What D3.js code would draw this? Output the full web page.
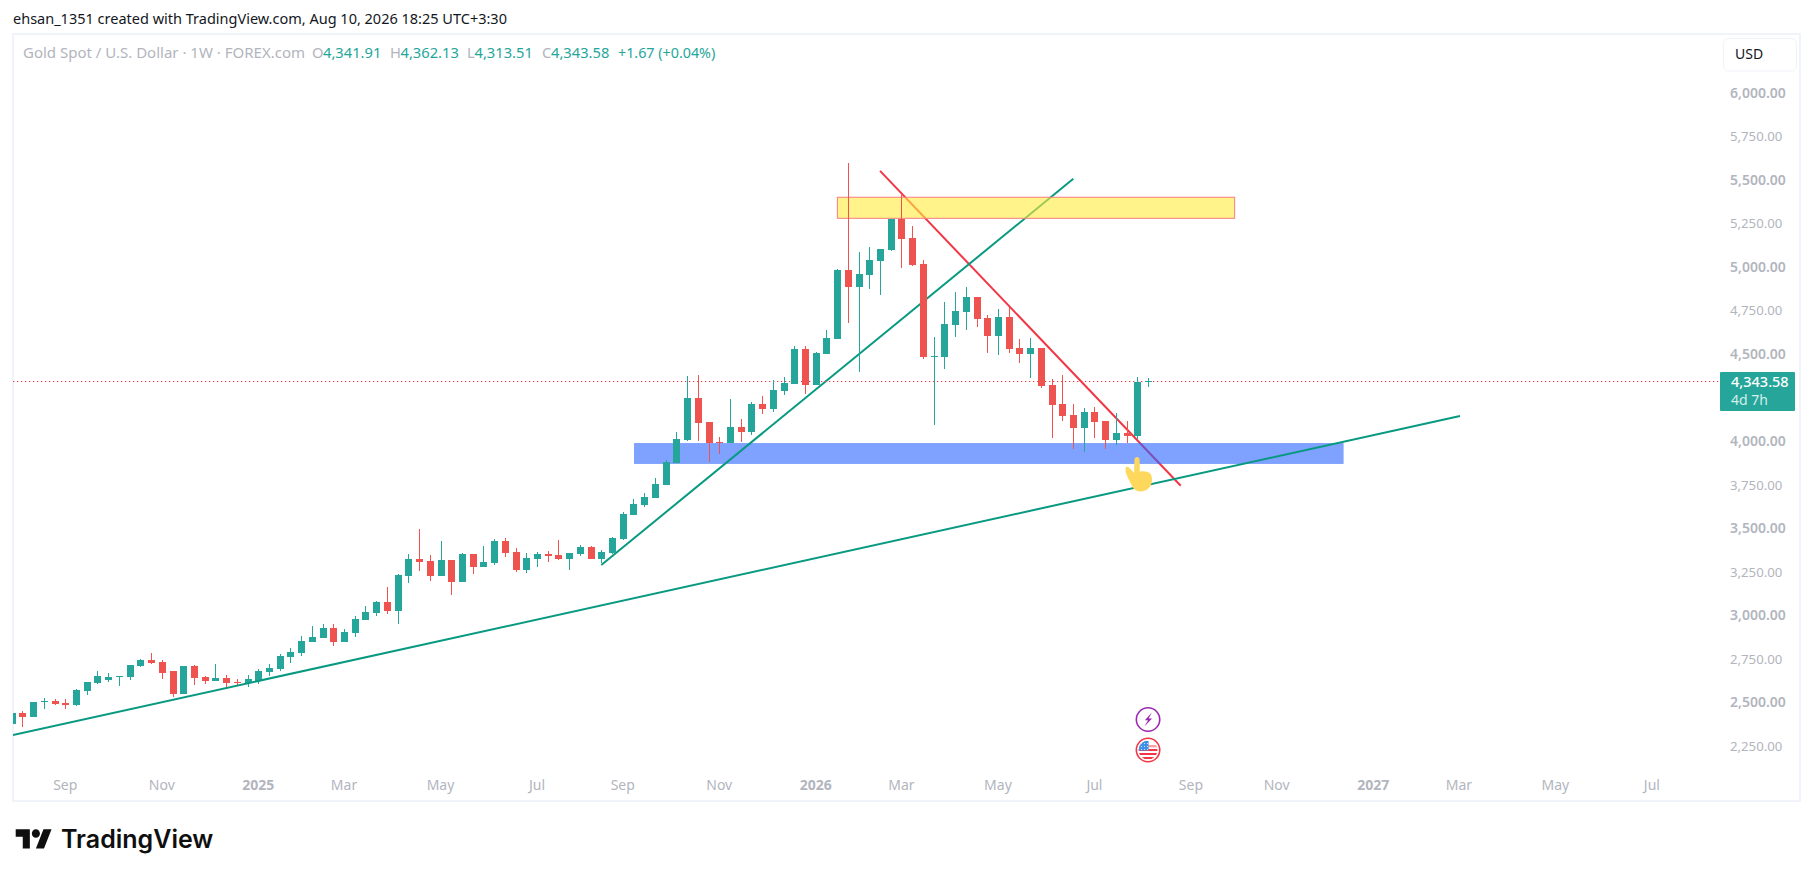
<!DOCTYPE html>
<html><head><meta charset="utf-8">
<script src="https://cdnjs.cloudflare.com/ajax/libs/d3/7.9.0/d3.min.js"></script>
<style>html,body{margin:0;padding:0;background:#fff}svg{display:block}text{font-family:"Noto Sans",sans-serif}</style>
</head><body><svg id="c" width="1814" height="877"></svg>
<script>
const opens=[2376,2440,2417,2503,2508,2497,2485,2566,2612,2629,2648,2646,2709,2744,2732,2681,2549,2709,2646,2623,2640,2617,2612,2623,2675,2692,2761,2784,2847,2870,2927,2847,2899,2973,3013,3077,3025,3226,3323,3312,3226,3318,3192,3352,3278,3301,3427,3364,3260,3324,3352,3347,3324,3352,3392,3324,3358,3438,3576,3634,3674,3748,3874,4007,4248,4110,3995,3989,4081,4052,4213,4184,4288,4328,4529,4322,4500,4586,4982,4885,4954,5034,5097,5275,5166,5017,4483,4483,4667,4741,4827,4707,4604,4713,4535,4500,4535,4323,4213,4150,4076,4168,4116,4007,4047,4030,4341.91];
const highs=[2440,2451,2503,2524,2518,2518,2577,2617,2681,2669,2652,2715,2749,2784,2744,2681,2709,2715,2652,2721,2658,2635,2658,2692,2721,2778,2813,2881,2939,2950,2950,2922,2996,3054,3082,3163,3237,3352,3496,3346,3427,3318,3358,3352,3398,3438,3444,3387,3358,3364,3370,3433,3358,3404,3398,3375,3450,3593,3668,3702,3788,3892,4052,4374,4380,4110,4024,4242,4127,4225,4259,4351,4368,4546,4546,4512,4638,4988,5596,5086,5114,5103,5275,5413,5235,5040,4598,4799,4856,4885,4827,4724,4758,4770,4586,4592,4535,4357,4380,4213,4190,4196,4116,4162,4116,4368,4362.13];
const lows=[2376,2359,2417,2463,2485,2463,2480,2543,2606,2617,2595,2629,2704,2721,2635,2531,2549,2600,2606,2623,2577,2600,2589,2606,2652,2681,2727,2767,2847,2870,2824,2847,2876,2973,2996,3008,2950,3186,3255,3197,3226,3117,3192,3238,3278,3289,3335,3249,3243,3278,3306,3318,3260,3341,3324,3301,3352,3433,3576,3622,3674,3748,3874,4001,4001,3880,3926,3989,3995,4035,4156,4167,4265,4328,4271,4322,4500,4586,4678,4397,4873,4839,5091,4994,5005,4471,4093,4414,4598,4638,4655,4506,4494,4506,4449,4362,4305,4018,4116,3955,3938,4018,3955,3978,3990,4013,4313.51];
const closes=[2440,2417,2503,2507,2491,2485,2571,2617,2652,2646,2652,2715,2744,2727,2669,2549,2709,2640,2623,2640,2612,2612,2635,2681,2698,2767,2790,2853,2876,2927,2847,2904,2979,3019,3077,3025,3232,3323,3306,3226,3318,3192,3352,3278,3306,3427,3358,3260,3329,3352,3341,3324,3358,3392,3324,3364,3444,3582,3639,3679,3754,3880,4012,4248,4104,3989,3989,4081,4052,4213,4184,4293,4334,4529,4322,4506,4592,4982,4885,4959,5040,5103,5275,5160,5011,4483,4489,4672,4747,4827,4701,4604,4713,4529,4500,4535,4317,4208,4145,4076,4168,4110,4007,4047,4030,4340,4343.58];

const priceTicks=[6000,5750,5500,5250,5000,4750,4500,4000,3750,3500,3250,3000,2750,2500,2250];
const majorPrices=[6000,5500,5000,4500,4000,3500,3000,2500];
const timeLabels=["Sep","Nov","2025","Mar","May","Jul","Sep","Nov","2026","Mar","May","Jul","Sep","Nov","2027","Mar","May","Jul"];
const timeIndex=[5,14,23,31,40,49,57,66,75,83,92,101,110,118,127,135,144,153];
const majorTimes=["2025","2026","2027"];

const greenLongI=[0.12,135.1],greenLongP=[2313,4144];
const greenUpI=[55,99.03],greenUpP=[3289,5506];
const redDownI=[81,109.05],redDownP=[5551,3744];
const yellowI=[77.02,114.08],yellowP=[5400,5279];
const blueI=[58.05,124.24],blueP=[3989,3869];
const lastPrice=4343.58;

const UP="#26a69a",DN="#ef5350",AX="#b2b5be",INK="#131722";
const svg=d3.select("#c");
const x=d3.scaleLinear().domain([0,153]).range([11.7,1651.9]);
const y=d3.scaleLinear().domain([6000,2250]).range([92.7,746]);

svg.append("defs").append("clipPath").attr("id","pane").append("rect").attr("x",13).attr("y",34).attr("width",1707).attr("height",767);

// frame
svg.append("rect").attr("x",13).attr("y",34).attr("width",1787).attr("height",767).attr("fill","#fff").attr("stroke","#f0f3fa").attr("stroke-width",2);

const pane=svg.append("g").attr("clip-path","url(#pane)");
const seg=(g,I,P,c)=>g.append("line").attr("x1",x(I[0])).attr("x2",x(I[1])).attr("y1",y(P[0])).attr("y2",y(P[1])).attr("stroke",c).attr("stroke-width",2);
const box=(g,I,P)=>g.append("rect").attr("x",x(I[0])).attr("width",x(I[1])-x(I[0])).attr("y",y(P[0])).attr("height",y(P[1])-y(P[0]));

// layers
seg(pane,redDownI,redDownP,"#f23645");
box(pane,blueI,blueP).attr("fill","#2962ff").attr("fill-opacity",0.6);
seg(pane,greenUpI,greenUpP,"#089981");
box(pane,yellowI,yellowP).attr("fill","#ffeb3b").attr("fill-opacity",0.6).attr("stroke","#f77c80").attr("stroke-width",1);

// last price line
pane.append("line").attr("x1",13).attr("x2",1720).attr("y1",Math.round(y(lastPrice))+.5).attr("y2",Math.round(y(lastPrice))+.5)
 .attr("stroke","#f23645").attr("stroke-width",1).attr("stroke-dasharray","1.3 2.7");

// candles
const idx=d3.range(opens.length);
const cg=pane.append("g").attr("shape-rendering","crispEdges");
cg.selectAll("rect.w").data(idx).join("rect").attr("class","w")
 .attr("x",i=>Math.round(x(i))-.5).attr("width",1)
 .attr("y",i=>Math.round(y(highs[i]))).attr("height",i=>Math.max(1,Math.round(y(lows[i]))-Math.round(y(highs[i]))))
 .attr("fill",i=>closes[i]>=opens[i]?UP:DN);
cg.selectAll("rect.b").data(idx).join("rect").attr("class","b")
 .attr("x",i=>Math.round(x(i))-3.5).attr("width",7)
 .attr("y",i=>Math.round(y(Math.max(opens[i],closes[i]))))
 .attr("height",i=>Math.max(1,Math.round(y(Math.min(opens[i],closes[i])))-Math.round(y(Math.max(opens[i],closes[i])))))
 .attr("fill",i=>closes[i]>=opens[i]?UP:DN);

seg(pane,greenLongI,greenLongP,"#089981");

// hand icon
const hand=pane.append("g").attr("transform",`translate(${x(105)-1},${y(3800)-2}) scale(1.15)`).attr("fill","#fed85d");
hand.append("path").attr("d","M-1.6 -12.5 C-1.6 -15.5 2.8 -15.5 2.8 -12.5 L3 -2 C6 -3 11 -2 12.5 0 C14.5 4 14 10 10 13 C6 16 0 16 -3 12 L-7 4 C-9 0 -10 -4 -9 -6 C-7 -7 -5 -4 -2 -1 Z");

// events
const ev=svg.append("g");
const e1=ev.append("g").attr("transform",`translate(${x(106)},719.5)`);
e1.append("circle").attr("r",11.7).attr("fill","#fff").attr("stroke","#9c27b0").attr("stroke-width",1.6);
e1.append("path").attr("d","M3.8 -7 L-3.2 0.8 L0 0.8 L-3.6 7 L4 -1 L0.6 -1 Z").attr("fill","#9c27b0");
const e2=ev.append("g").attr("transform",`translate(${x(106)},750)`);
e2.append("circle").attr("r",11.7).attr("fill","#fff").attr("stroke","#f23645").attr("stroke-width",1.6);
e2.append("defs").append("clipPath").attr("id","fl").append("circle").attr("r",9.4);
const fl=e2.append("g").attr("clip-path","url(#fl)");
[-1,3,7].forEach(v=>fl.append("rect").attr("x",-10).attr("y",v).attr("width",20).attr("height",2).attr("fill","#f23645"));
fl.append("rect").attr("x",-10).attr("y",-5).attr("width",20).attr("height",2.4).attr("fill","#f7a0a8");
fl.append("rect").attr("x",-10).attr("y",-9).attr("width",10.5).attr("height",9.5).attr("fill","#3f8fe8");
[-7,-4,-1].forEach(a=>[-7,-4,-1].forEach(b=>fl.append("rect").attr("x",a).attr("y",b).attr("width",1).attr("height",1).attr("fill","#cfe3fb")));

// price axis
const labelX=1730;
svg.append("g").selectAll("text").data(priceTicks).join("text")
 .attr("x",labelX).attr("y",d=>y(d)+5).attr("font-size",d=>majorPrices.includes(d)?14:13.2)
 .attr("fill",AX).attr("font-weight",d=>majorPrices.includes(d)?600:400)
 .text(d=>d3.format(",.2f")(d));

// USD button
svg.append("rect").attr("x",1723.5).attr("y",38.5).attr("width",73).attr("height",32.5).attr("rx",5).attr("fill","#fff").attr("stroke","#f0f3fa");
svg.append("text").attr("x",1735).attr("y",59).attr("font-size",14).attr("fill",INK).text("USD");

// price tag
svg.append("rect").attr("x",1720).attr("y",372).attr("width",75).attr("height",39).attr("rx",1).attr("fill",UP);
svg.append("text").attr("x",1731).attr("y",387).attr("font-size",14.5).attr("font-weight",500).attr("fill","#fff").text(d3.format(",.2f")(lastPrice));
svg.append("text").attr("x",1731).attr("y",405).attr("font-size",14).attr("fill","#d4eeeb").text("4d 7h");

// time axis
svg.append("g").selectAll("text").data(timeLabels).join("text")
 .attr("x",(d,i)=>x(timeIndex[i])).attr("y",790).attr("text-anchor","middle").attr("font-size",14)
 .attr("fill",AX).attr("font-weight",d=>majorTimes.includes(d)?700:400).text(d=>d);

// header
svg.append("text").attr("x",13).attr("y",24).attr("font-size",14.5).attr("fill",INK).text("ehsan_1351 created with TradingView.com, Aug 10, 2026 18:25 UTC+3:30");
const put=(xx,t,c,s)=>svg.append("text").attr("x",xx).attr("y",58).attr("font-size",s||14.7).attr("fill",c).text(t);
put(23,"Gold Spot / U.S. Dollar · 1W · FOREX.com",AX,15);
put(312,"O",AX);put(323,"4,341.91",UP);
put(390,"H",AX);put(400.5,"4,362.13",UP);
put(467,"L",AX);put(474.5,"4,313.51",UP);
put(542,"C",AX);put(551,"4,343.58",UP);
put(618,"+1.67 (+0.04%)",UP,14.3);

// logo
const lo=svg.append("g").attr("transform","translate(15.7,824.9) scale(1.01,1.07)").attr("fill","#0f0f0f");
lo.append("path").attr("d","M14 22H7V11H0V4h14v18zM28 22h-8l7.5-18h8L28 22z");
lo.append("circle").attr("cx",20).attr("cy",8).attr("r",4);
svg.append("text").attr("x",61).attr("y",848).attr("font-size",25).attr("font-weight",600).attr("fill","#0f0f0f").style("font-family","Inter").text("TradingView");
</script></body></html>
